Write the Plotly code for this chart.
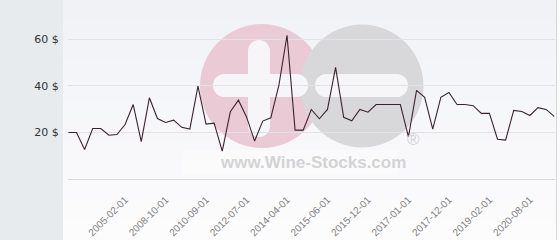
import plotly.graph_objects as go

# ---------------- data ----------------
dates = [
    "2001-06-01", "2002-03-01", "2002-11-01", "2003-05-01", "2003-12-01", "2004-05-01", "2004-09-01",
    "2005-02-01", "2006-01-01", "2006-10-01", "2007-06-01", "2008-02-01",
    "2008-10-01", "2009-02-01", "2009-07-01", "2009-12-01", "2010-04-01",
    "2010-09-01", "2011-01-01", "2011-05-01", "2011-10-01", "2012-02-01",
    "2012-07-01", "2012-11-01", "2013-04-01", "2013-08-01", "2013-12-01",
    "2014-04-01", "2014-07-01", "2014-10-01", "2015-01-01", "2015-04-01",
    "2015-06-01", "2015-07-01", "2015-08-01", "2015-09-01", "2015-11-01",
    "2015-12-01", "2016-02-01", "2016-05-01", "2016-08-01", "2016-10-01",
    "2017-01-01", "2017-03-01", "2017-05-01", "2017-07-01", "2017-10-01",
    "2017-12-01", "2018-03-01", "2018-06-01", "2018-09-01", "2018-11-01",
    "2019-02-01", "2019-06-01", "2019-10-01", "2020-01-01", "2020-04-01",
    "2020-08-01", "2020-11-01", "2021-03-01", "2021-07-01",
]
prices = [
    20.0, 20.0, 12.7, 21.7, 21.7, 18.8, 19.1,
    23.4, 32.0, 16.1, 34.9, 26.0,
    24.3, 25.3, 22.2, 21.5, 39.9,
    23.6, 24.0, 12.0, 28.9, 33.9,
    26.7, 16.3, 24.9, 26.3, 40.3,
    61.8, 21.0, 21.0, 29.9, 25.9,
    29.9, 48.0, 26.5, 25.0, 29.9,
    28.7, 32.0, 32.0, 32.0, 32.0,
    18.1, 38.1, 35.1, 21.4, 35.1,
    37.2, 32.0, 32.0, 31.5, 28.2,
    28.2, 17.1, 16.7, 29.5, 29.0,
    27.3, 30.7, 29.9, 26.9,
]
x_tick_labels = ["2005-02-01", "2008-10-01", "2010-09-01", "2012-07-01", "2014-04-01",
                 "2015-06-01", "2015-12-01", "2017-01-01", "2017-12-01", "2019-02-01",
                 "2020-08-01"]
y_tick_values = [20, 40, 60]
y_tick_labels = ["20 $", "40 $", "60 $"]

# ---------------- layout geometry (pixels) ----------------
W, H = 560, 240
L, R, T, B = 68, 555, 5, 179


def fx(px):
    return (px - L) / (R - L)


def fy(py):
    return (B - py) / (B - T)


shapes = []


def rect(x0, y0, x1, y1, color):
    shapes.append(dict(type="rect", xref="paper", yref="paper",
                       x0=fx(x0), x1=fx(x1), y0=fy(y1), y1=fy(y0),
                       fillcolor=color, line=dict(width=0), layer="below"))


def circle(cx, cy, r, color):
    shapes.append(dict(type="circle", xref="paper", yref="paper",
                       x0=fx(cx - r), x1=fx(cx + r), y0=fy(cy + r), y1=fy(cy - r),
                       fillcolor=color, line=dict(width=0), layer="below"))


def hbar(x0, x1, y0, y1, color):
    r = (y1 - y0) / 2
    rect(x0 + r, y0, x1 - r, y1, color)
    circle(x0 + r, (y0 + y1) / 2, r, color)
    circle(x1 - r, (y0 + y1) / 2, r, color)


def vbar(x0, x1, y0, y1, color):
    r = (x1 - x0) / 2
    rect(x0, y0 + r, x1, y1 - r, color)
    circle((x0 + x1) / 2, y0 + r, r, color)
    circle((x0 + x1) / 2, y1 - r, r, color)


# background gradient bands
top_c = (241, 242, 246)
bot_c = (252, 252, 253)
nb = 12
for k in range(nb):
    t = k / (nb - 1)
    c = tuple(round(top_c[i] + (bot_c[i] - top_c[i]) * t) for i in range(3))
    rect(63, k * H / nb, 556, (k + 1) * H / nb + 0.5, "rgb(%d,%d,%d)" % c)

# left sidebar
rect(0, 0, 63, H, "#e7ebee")
# right edge
rect(556, 0, 557, H, "#d6d6d8")
rect(557, 0, W, H, "#fbfbfc")

# watermark
circle(262, 86, 62, "#eacad4")
circle(362, 86, 61.5, "#d8d8da")
wcol = "#f6f6f9"
vbar(248, 270, 40, 137, wcol)
hbar(213, 308, 74, 97, wcol)
hbar(315, 408, 74, 97, wcol)
rect(183, 150, 398, 175, "rgba(255,255,255,0.3)")

fig = go.Figure()
fig.add_trace(go.Scatter(
    x=dates, y=prices, mode="lines",
    line=dict(color="#3a2330", width=1.1),
    hoverinfo="skip", showlegend=False,
))

fig.update_layout(
    width=W, height=H,
    margin=dict(l=L, r=W - R, t=T, b=H - B),
    paper_bgcolor="#fbfbfc",
    plot_bgcolor="rgba(0,0,0,0)",
    shapes=shapes,
    showlegend=False,
    annotations=[
        dict(text="<b>www.Wine-Stocks.com</b>", xref="paper", yref="paper",
             x=fx(312.5), y=fy(162), xanchor="center", yanchor="middle", showarrow=False,
             font=dict(family="Liberation Sans", size=17, color="#d3d3d5")),
        dict(text="®", xref="paper", yref="paper",
             x=fx(413), y=fy(139), xanchor="center", yanchor="middle", showarrow=False,
             font=dict(family="Liberation Sans", size=17, color="#d3d3d5")),
    ],
)
fig.update_xaxes(
    type="category", automargin=False,
    range=[-0.05, len(dates) - 0.9],
    tickmode="array", tickvals=x_tick_labels, ticktext=x_tick_labels,
    tickangle=-45,
    tickfont=dict(family="Liberation Sans", size=10, color="#808080"),
    showgrid=False, zeroline=False,
    showline=True, linecolor="#d9d9dc", linewidth=1,
    ticks="outside", ticklen=10, tickcolor="rgba(0,0,0,0)",
)
fig.update_yaxes(
    automargin=False,
    range=[0, 74.8],
    tickmode="array", tickvals=y_tick_values, ticktext=y_tick_labels,
    tickfont=dict(family="DejaVu Sans", size=11, color="#333333"),
    showgrid=True, gridcolor="#e1e1e6", gridwidth=1,
    zeroline=False, showline=False,
    ticks="outside", ticklen=6, tickcolor="rgba(0,0,0,0)",
)

fig.write_html("out.html")
